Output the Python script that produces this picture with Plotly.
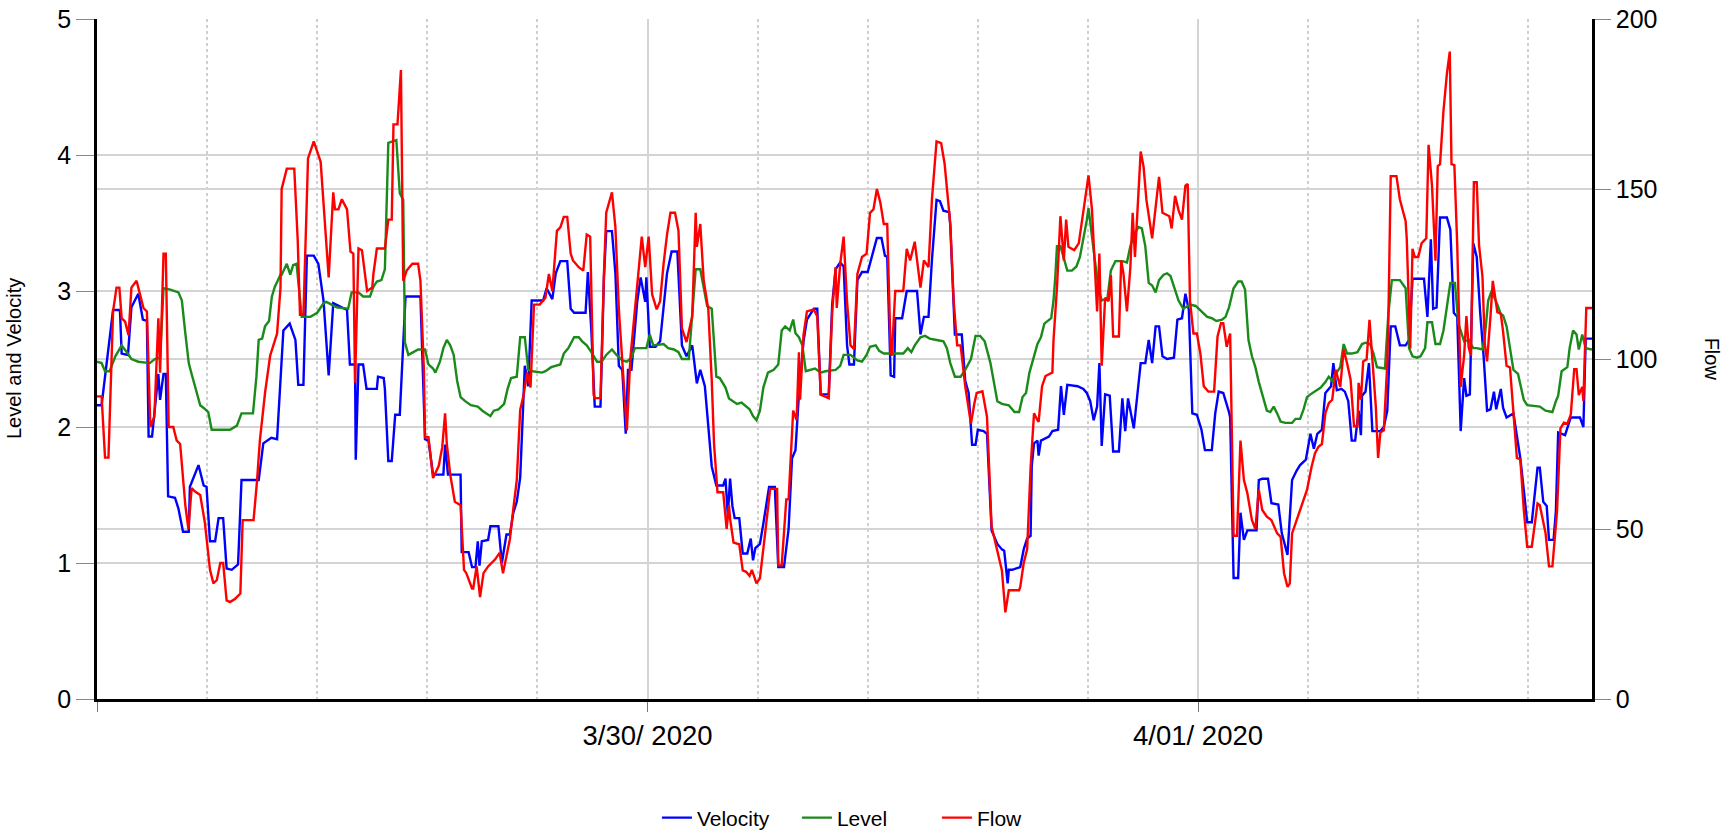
import pandas as pd
import plotly.graph_objects as go

START = pd.Timestamp("2020-03-28 00:00")
END_HOURS = 130.35

# ---- Velocity (left axis) : hours since 3/28 00:00, value
vel_hours = [0, 0.4, 1.4, 2.0, 2.15, 2.7, 3.0, 3.6, 4.0, 4.35, 4.5, 4.8, 5.35, 5.5, 5.8, 6.0, 6.2, 6.8, 7.1, 7.5,
             8.0, 8.1, 8.85, 9.3, 9.55, 9.85, 10.3, 10.6, 11.0, 11.3, 11.75, 12.3, 12.6, 14.1, 14.5, 15.2, 15.7, 16.25, 16.8, 17.3,
             17.55, 18.0, 18.3, 18.9, 19.3, 19.75, 20.2, 20.6, 21.8, 22.05, 22.5, 22.56, 22.8, 23.2, 23.5, 24.4, 24.5, 25.0, 25.1, 25.4,
             25.7, 26.0, 26.4, 26.9, 28.2, 28.4, 28.6, 28.9, 29.3, 30.2, 30.35, 30.6, 31.7, 31.8, 32.4, 32.7, 33.0, 33.2, 33.35, 33.55,
             34.1, 34.3, 35.0, 35.3, 35.7, 36.0, 36.3, 36.6, 36.9, 37.3, 37.6, 37.9, 38.9, 39.2, 39.7, 40.0, 40.4, 41.0, 41.3, 41.6,
             42.6, 42.8, 43.1, 43.4, 43.9, 44.2, 44.4, 44.9, 45.2, 45.5, 45.8, 46.1, 46.3, 46.6, 47.1, 47.4, 47.8, 47.9, 48.2, 48.7,
             49.1, 49.7, 50.1, 50.6, 51.0, 51.4, 51.9, 52.3, 52.6, 53.0, 53.6, 54.0, 54.6, 54.8, 55.0, 55.2, 55.4, 55.6, 56.0, 56.3,
             56.7, 57.0, 57.2, 57.4, 57.8, 58.1, 58.6, 59.1, 59.4, 59.9, 60.3, 60.6, 60.9, 61.2, 61.6, 61.9, 62.5, 62.8, 63.1, 63.8,
             64.1, 64.4, 64.8, 65.1, 65.4, 65.6, 66.0, 66.3, 66.7, 67.2, 67.6, 68.0, 68.4, 68.7, 68.9, 69.2, 69.5, 69.6, 70.2, 70.6,
             71.5, 71.8, 72.1, 72.5, 72.8, 73.2, 73.5, 73.8, 74.3, 74.4, 74.8, 75.4, 75.7, 76.0, 76.3, 76.6, 76.8, 77.3, 77.6, 78.0,
             78.5, 78.9, 79.1, 79.4, 79.5, 79.8, 80.5, 80.8, 81.1, 81.4, 81.5, 81.7, 82.0, 82.1, 82.3, 82.7, 83.0, 83.3, 83.8, 84.05,
             84.3, 84.6, 85.5, 86.0, 86.3, 86.6, 86.9, 87.2, 87.4, 87.6, 87.9, 88.3, 88.6, 89.1, 89.4, 89.65, 89.9, 90.4, 90.5, 91.0,
             91.4, 91.7, 92.0, 92.3, 92.6, 92.9, 93.3, 93.9, 94.2, 94.6, 94.9, 95.2, 95.5, 95.9, 96.3, 96.6, 97.2, 97.5, 97.8, 98.2,
             98.7, 98.8, 99.1, 99.5, 99.7, 100.0, 100.3, 101.1, 101.3, 101.6, 102.1, 102.4, 103.0, 103.3, 103.8, 104.0, 104.2, 104.6, 104.9, 105.4,
             105.8, 106.1, 106.4, 106.8, 107.1, 107.6, 107.8, 108.1, 108.5, 108.8, 109.1, 109.4, 109.7, 110.0, 110.2, 110.3, 110.6, 110.9, 111.2, 111.9,
             112.2, 112.5, 112.8, 113.2, 113.6, 114.1, 114.4, 114.7, 115.7, 116.0, 116.3, 116.5, 116.8, 117.1, 117.7, 118.0, 118.3, 118.6, 118.9, 119.2,
             119.4, 119.7, 120.0, 120.3, 120.6, 120.9, 121.2, 121.5, 121.8, 122.0, 122.4, 122.6, 122.9, 123.5, 124.1, 124.4, 124.7, 125.1, 125.6, 125.8,
             126.1, 126.4, 126.6, 127.0, 127.2, 127.4, 128.0, 128.5, 129.3, 129.6, 129.8, 130.35]
velocity = [2.16, 2.16, 2.86, 2.86, 2.54, 2.53, 2.88, 2.98, 2.79, 2.78, 1.93, 1.93, 2.39, 2.2, 2.39, 2.39, 1.49, 1.48, 1.40, 1.23,
            1.23, 1.56, 1.72, 1.57, 1.56, 1.16, 1.16, 1.33, 1.33, 0.96, 0.95, 0.99, 1.61, 1.61, 1.88, 1.92, 1.91, 2.71, 2.76, 2.64,
            2.31, 2.31, 3.26, 3.26, 3.2, 2.93, 2.38, 2.91, 2.86, 2.46, 2.46, 1.76, 2.46, 2.46, 2.28, 2.28, 2.37, 2.36, 2.28, 1.75,
            1.75, 2.09, 2.09, 2.96, 2.96, 2.47, 1.91, 1.90, 1.65, 1.65, 1.87, 1.65, 1.65, 1.08, 1.08, 0.97, 0.97, 1.16, 0.98, 1.16,
            1.17, 1.27, 1.27, 1.0, 1.21, 1.21, 1.37, 1.45, 1.63, 2.45, 2.3, 2.93, 2.93, 3.02, 2.94, 3.13, 3.22, 3.22, 2.87, 2.84,
            2.84, 3.14, 2.71, 2.15, 2.15, 3.1, 3.44, 3.44, 3.13, 2.45, 2.42, 1.95, 2.42, 2.42, 2.92, 3.1, 2.92, 3.1, 2.59, 2.59,
            2.63, 3.13, 3.29, 3.29, 2.6, 2.52, 2.6, 2.32, 2.42, 2.3, 1.71, 1.57, 1.57, 1.62, 1.35, 1.62, 1.42, 1.33, 1.33, 1.07,
            1.07, 1.18, 1.02, 1.11, 1.14, 1.29, 1.56, 1.56, 0.97, 0.97, 1.25, 1.77, 1.83, 2.24, 2.63, 2.79, 2.87, 2.87, 2.24, 2.24,
            2.9, 3.16, 3.21, 3.18, 2.6, 2.46, 2.46, 3.08, 3.14, 3.14, 3.27, 3.39, 3.39, 3.26, 3.25, 2.38, 2.37, 2.8, 2.8, 3.0,
            3.0, 2.68, 2.81, 2.81, 3.23, 3.67, 3.66, 3.59, 3.58, 3.48, 2.68, 2.68, 2.34, 2.25, 1.87, 1.87, 1.98, 1.97, 1.95, 1.24,
            1.14, 1.1, 1.09, 0.85, 0.95, 0.95, 0.97, 1.1, 1.18, 1.2, 1.71, 1.88, 1.9, 1.79, 1.9, 1.92, 1.93, 1.97, 1.98, 2.3,
            2.09, 2.31, 2.3, 2.28, 2.25, 2.19, 2.05, 2.15, 2.47, 1.86, 2.24, 2.23, 1.82, 1.82, 2.21, 1.97, 2.21, 1.99, 2.08, 2.47,
            2.47, 2.64, 2.47, 2.74, 2.74, 2.52, 2.5, 2.51, 2.79, 2.8, 2.98, 2.86, 2.1, 2.09, 1.98, 1.83, 1.83, 2.1, 2.26, 2.25,
            2.11, 2.07, 0.89, 0.89, 1.37, 1.17, 1.24, 1.24, 1.61, 1.62, 1.62, 1.44, 1.43, 1.22, 1.06, 1.3, 1.61, 1.68, 1.72, 1.76,
            1.95, 1.84, 1.95, 1.98, 2.25, 2.3, 2.47, 2.27, 2.28, 2.26, 2.19, 1.9, 1.9, 2.12, 1.94, 2.23, 2.26, 2.47, 1.97, 1.97,
            2.0, 2.12, 2.74, 2.74, 2.6, 2.6, 2.64, 3.09, 3.09, 2.81, 3.38, 2.87, 2.88, 3.54, 3.54, 3.45, 2.84, 2.81, 1.97, 2.36,
            2.23, 2.24, 3.35, 3.25, 2.84, 2.52, 2.12, 2.13, 2.26, 2.13, 2.28, 2.14, 2.07, 2.1, 1.77, 1.54, 1.3, 1.3, 1.7, 1.7,
            1.45, 1.42, 1.17, 1.17, 1.38, 1.96, 1.94, 2.07, 2.07, 2.0, 2.65, 2.65]

# ---- Level (left axis)
lvl_hours = [0, 0.4, 0.7, 1.1, 1.6, 2.15, 2.6, 3.0, 3.6, 4.6, 5.05, 5.5, 5.8, 6.4, 7.1, 7.4, 7.7, 8.0, 8.25, 8.7,
             9.0, 9.3, 9.7, 10.0, 11.6, 12.2, 12.6, 13.6, 13.9, 14.1, 14.4, 14.65, 15.0, 15.25, 15.5, 16.0, 16.1, 16.55, 16.85, 17.1,
             17.4, 17.85, 18.6, 19.2, 19.75, 20.0, 20.9, 21.9, 22.2, 22.8, 23.2, 23.8, 24.1, 24.4, 24.8, 25.1, 25.4, 26.1, 26.4, 26.7,
             26.85, 27.15, 27.6, 28.0, 28.6, 28.9, 29.3, 29.5, 29.9, 30.2, 30.5, 30.8, 31.1, 31.4, 31.7, 32.1, 32.6, 33.2, 33.6, 34.0,
             34.3, 34.6, 35.0, 35.5, 35.8, 36.1, 36.6, 36.9, 37.3, 37.6, 38.0, 38.8, 39.1, 39.6, 40.0, 40.4, 40.7, 41.1, 41.6, 42.0,
             42.3, 42.7, 43.1, 43.6, 44.0, 44.4, 44.9, 45.3, 45.8, 46.2, 46.6, 46.9, 47.9, 48.2, 48.5, 49.4, 49.8, 50.3, 50.7, 51.0,
             51.6, 51.9, 52.2, 52.6, 52.9, 53.2, 53.6, 53.8, 54.0, 54.3, 54.8, 55.1, 55.4, 55.8, 56.2, 56.5, 56.9, 57.2, 57.5, 57.8,
             58.1, 58.5, 59.0, 59.4, 59.7, 60.0, 60.4, 60.7, 60.9, 61.2, 61.5, 61.8, 62.2, 62.6, 63.1, 63.5, 64.4, 64.8, 65.1, 65.7,
             66.3, 66.7, 67.1, 67.4, 67.9, 68.2, 68.6, 70.3, 70.7, 71.0, 71.3, 71.8, 72.2, 72.6, 73.2, 73.8, 74.1, 74.4, 74.8, 75.3,
             75.7, 76.2, 76.6, 77.0, 77.4, 77.9, 78.2, 78.5, 78.9, 79.5, 80.0, 80.4, 80.7, 81.0, 81.3, 81.7, 82.0, 82.3, 82.6, 83.2,
             83.4, 83.55, 83.7, 84.0, 84.3, 84.6, 85.0, 85.4, 85.7, 86.0, 86.3, 86.45, 86.75, 87.0, 87.3, 87.6, 88.1, 88.4, 88.8, 89.4,
             89.8, 90.1, 90.4, 90.8, 91.1, 91.4, 91.7, 92.0, 92.3, 92.6, 93.0, 93.3, 93.6, 93.9, 94.3, 94.7, 95.3, 95.8, 96.2, 96.8,
             97.2, 97.6, 98.1, 98.4, 98.7, 99.1, 99.5, 99.8, 100.1, 100.4, 100.7, 101.0, 101.3, 101.6, 102.0, 102.3, 102.6, 102.9, 103.2, 103.6,
             104.2, 104.5, 104.9, 105.2, 105.5, 105.8, 106.2, 106.7, 107.1, 107.4, 107.7, 108.0, 108.4, 108.7, 109.0, 109.4, 109.9, 110.3, 110.6, 111.0,
             111.3, 111.6, 112.3, 112.6, 112.9, 113.6, 114.1, 114.4, 114.7, 115.1, 115.4, 115.8, 116.0, 116.4, 116.7, 117.1, 117.4, 117.7, 118.0, 118.4,
             118.7, 119.2, 119.6, 120.0, 120.3, 120.8, 121.0, 121.3, 121.6, 122.1, 122.4, 122.6, 122.9, 123.2, 123.5, 123.9, 124.4, 124.7, 125.8, 126.3,
             126.9, 127.2, 127.4, 127.7, 128.2, 128.4, 128.7, 129.0, 129.2, 129.5, 129.8, 130.35]
level = [2.48, 2.47, 2.41, 2.41, 2.52, 2.60, 2.55, 2.50, 2.48, 2.47, 2.50, 2.51, 3.02, 3.01, 2.99, 2.93, 2.69, 2.47, 2.39, 2.25,
         2.16, 2.14, 2.11, 1.98, 1.98, 2.01, 2.10, 2.10, 2.37, 2.64, 2.65, 2.74, 2.78, 2.96, 3.03, 3.12, 3.12, 3.20, 3.12, 3.19,
         3.20, 2.81, 2.81, 2.84, 2.91, 2.92, 2.88, 2.87, 2.99, 2.99, 2.96, 2.96, 3.03, 3.07, 3.08, 3.16, 4.09, 4.11, 3.72, 3.67,
         2.62, 2.53, 2.55, 2.57, 2.57, 2.46, 2.43, 2.40, 2.48, 2.58, 2.64, 2.60, 2.53, 2.34, 2.22, 2.19, 2.16, 2.15, 2.12, 2.10,
         2.08, 2.12, 2.13, 2.17, 2.28, 2.36, 2.37, 2.66, 2.66, 2.42, 2.41, 2.40, 2.41, 2.44, 2.45, 2.46, 2.54, 2.58, 2.66, 2.66,
         2.63, 2.60, 2.55, 2.48, 2.48, 2.53, 2.57, 2.53, 2.49, 2.48, 2.51, 2.58, 2.58, 2.68, 2.60, 2.61, 2.58, 2.57, 2.55, 2.50,
         2.50, 2.87, 3.16, 3.16, 3.02, 2.89, 2.87, 2.63, 2.37, 2.36, 2.29, 2.21, 2.19, 2.17, 2.18, 2.16, 2.13, 2.08, 2.05, 2.12,
         2.29, 2.40, 2.42, 2.46, 2.71, 2.74, 2.71, 2.79, 2.69, 2.66, 2.60, 2.41, 2.42, 2.43, 2.40, 2.41, 2.42, 2.45, 2.53, 2.53,
         2.49, 2.48, 2.53, 2.59, 2.60, 2.56, 2.54, 2.54, 2.58, 2.55, 2.60, 2.66, 2.67, 2.65, 2.64, 2.63, 2.58, 2.47, 2.37, 2.37,
         2.42, 2.50, 2.67, 2.67, 2.63, 2.47, 2.33, 2.19, 2.17, 2.16, 2.11, 2.11, 2.22, 2.25, 2.40, 2.52, 2.61, 2.66, 2.76, 2.80,
         2.93, 3.10, 3.33, 3.33, 3.23, 3.15, 3.15, 3.18, 3.25, 3.38, 3.52, 3.61, 3.42, 3.23, 3.03, 2.93, 2.95, 3.15, 3.22, 3.22,
         3.21, 3.33, 3.41, 3.47, 3.46, 3.33, 3.06, 3.04, 2.99, 3.08, 3.12, 3.13, 3.11, 3.03, 2.93, 2.87, 2.90, 2.89, 2.86, 2.81,
         2.80, 2.78, 2.79, 2.81, 2.88, 3.02, 3.07, 3.07, 3.01, 2.64, 2.52, 2.44, 2.33, 2.24, 2.12, 2.11, 2.15, 2.10, 2.04, 2.03,
         2.03, 2.06, 2.06, 2.13, 2.22, 2.24, 2.26, 2.29, 2.33, 2.37, 2.34, 2.39, 2.44, 2.61, 2.54, 2.54, 2.55, 2.61, 2.62, 2.61,
         2.54, 2.44, 2.43, 2.84, 3.08, 3.08, 3.02, 2.58, 2.52, 2.51, 2.52, 2.58, 2.77, 2.77, 2.61, 2.61, 2.71, 2.89, 3.06, 3.06,
         2.76, 2.63, 2.64, 2.58, 2.58, 2.57, 2.66, 2.93, 3.00, 2.90, 2.83, 2.82, 2.74, 2.58, 2.42, 2.39, 2.20, 2.16, 2.15, 2.12,
         2.11, 2.19, 2.23, 2.41, 2.44, 2.58, 2.71, 2.68, 2.57, 2.68, 2.58, 2.57]

# ---- Flow (right axis)
flow_hours = [0, 0.4, 0.7, 1.0, 1.4, 1.7, 1.95, 2.15, 2.45, 2.75, 3.0, 3.45, 3.75, 4.05, 4.35, 4.65, 5.0, 5.35, 5.5, 5.8,
              6.0, 6.25, 6.65, 6.95, 7.25, 7.7, 7.97, 8.25, 8.55, 9.0, 9.4, 9.85, 10.15, 10.45, 10.75, 11.0, 11.3, 11.6, 12.05, 12.5,
              12.7, 13.65, 13.95, 14.2, 14.65, 15.1, 15.7, 16.0, 16.1, 16.55, 17.2, 17.5, 17.7, 18.0, 18.4, 18.9, 19.5, 19.74, 20.2, 20.6,
              20.75, 21.05, 21.35, 21.8, 22.1, 22.35, 22.5, 22.8, 23.1, 23.4, 23.55, 24.0, 24.1, 24.4, 25.1, 25.4, 25.7, 25.85, 26.2, 26.5,
              26.7, 27.0, 27.5, 28.0, 28.2, 28.5, 28.6, 28.9, 29.3, 29.8, 30.1, 30.35, 30.5, 30.8, 31.2, 31.7, 32.0, 32.2, 32.7, 32.8,
              33.1, 33.4, 33.7, 34.1, 34.7, 35.1, 35.4, 35.7, 36.0, 36.3, 36.6, 36.9, 37.2, 37.5, 37.8, 38.1, 38.6, 39.1, 39.4, 39.7,
              40.1, 40.4, 40.7, 41.0, 41.3, 41.5, 42.0, 42.4, 42.7, 43.0, 43.3, 43.4, 43.9, 44.2, 44.4, 44.9, 45.2, 45.5, 45.8, 46.2,
              46.5, 46.9, 47.2, 47.5, 47.8, 48.1, 48.4, 48.8, 49.1, 49.4, 49.7, 50.0, 50.4, 50.7, 51.0, 51.4, 51.9, 52.2, 52.3, 52.6,
              52.9, 53.3, 53.6, 53.8, 54.1, 54.6, 54.9, 55.1, 55.2, 55.5, 56.0, 56.3, 56.6, 56.9, 57.1, 57.5, 57.8, 58.4, 58.7, 59.3,
              59.4, 59.7, 60.1, 60.3, 60.5, 60.7, 61.0, 61.2, 61.3, 61.6, 61.9, 62.5, 62.8, 63.1, 63.8, 64.1, 64.4, 64.5, 64.8, 65.1,
              65.4, 65.7, 66.0, 66.3, 66.7, 67.1, 67.4, 67.7, 68.0, 68.3, 68.6, 68.9, 69.2, 69.3, 69.6, 70.3, 70.6, 70.9, 71.3, 71.6,
              71.8, 72.1, 72.5, 72.8, 73.2, 73.6, 73.9, 74.4, 74.7, 75.0, 75.3, 75.7, 76.2, 76.5, 76.7, 77.2, 77.6, 78.0, 78.5, 78.9,
              79.2, 79.5, 80.4, 80.5, 80.8, 81.1, 81.4, 81.7, 82.0, 82.1, 82.4, 82.7, 83.3, 83.4, 83.7, 84.0, 84.3, 84.5, 84.7, 85.2,
              85.6, 85.9, 86.2, 86.45, 86.75, 87.0, 87.2, 87.4, 87.6, 87.9, 88.2, 88.4, 88.6, 89.1, 89.3, 89.5, 89.8, 90.1, 90.3, 90.5,
              90.8, 91.0, 91.25, 91.5, 92.0, 92.3, 92.6, 92.9, 93.5, 93.7, 94.0, 94.3, 94.6, 94.9, 95.1, 95.3, 95.6, 95.9, 96.2, 96.5,
              96.9, 97.4, 97.7, 98.0, 98.2, 98.5, 98.8, 99.1, 99.4, 99.7, 100.0, 100.3, 100.7, 101.0, 101.3, 101.6, 102.0, 102.4, 102.9, 103.2,
              103.5, 103.8, 104.0, 104.2, 104.6, 105.0, 105.5, 105.9, 106.2, 106.5, 106.8, 107.1, 107.4, 107.7, 108.0, 108.4, 108.7, 109.0, 109.3, 109.6,
              109.9, 110.0, 110.2, 110.4, 110.7, 110.95, 111.2, 111.5, 111.7, 111.9, 112.2, 112.5, 112.6, 112.8, 113.3, 113.6, 114.1, 114.2, 114.5, 114.7,
              114.9, 115.2, 115.5, 115.9, 116.1, 116.4, 116.7, 116.9, 117.1, 117.4, 117.7, 117.95, 118.1, 118.35, 118.6, 118.9, 119.2, 119.4, 119.6, 119.8,
              120.05, 120.3, 120.5, 120.8, 121.0, 121.2, 121.5, 121.7, 122.1, 122.4, 122.6, 122.9, 123.2, 123.5, 123.8, 124.1, 124.4, 124.7, 125.1, 125.6,
              125.8, 126.3, 126.6, 126.9, 127.3, 127.6, 127.9, 128.2, 128.5, 128.8, 129.0, 129.2, 129.5, 129.6, 129.85, 130.35]
flow = [89, 89, 71, 71, 114, 121, 121, 112, 111, 107, 121, 123, 119, 115, 114, 80, 83, 112, 96, 131,
        131, 80, 80, 76, 75, 57, 50, 62, 61, 60, 52, 38, 34, 35, 40, 40, 29, 28.5, 29.5, 31,
        52.6, 52.6, 64, 76, 90, 101, 107.5, 121, 150, 156, 156, 135, 113, 113, 159, 164, 158, 146, 124, 149,
        144, 144, 147, 144, 131.6, 131, 93, 132.5, 132, 124, 120, 121, 125, 132.5, 132.5, 141, 141, 169, 169, 185,
        123, 126, 128, 128, 123, 97, 77, 77, 65, 68.6, 74, 84, 75, 66, 58, 57, 38, 37, 32.5, 32.5,
        39, 30, 37, 39, 41, 43, 37, 42, 47, 56, 64.4, 85, 89.5, 96, 91.6, 116, 116, 118, 125, 120,
        137.7, 138.7, 141.8, 141.8, 131, 129, 127, 126, 136.6, 136, 89.5, 88.5, 88.5, 125, 143, 149, 138.7, 114.6, 99, 79,
        100, 114.6, 127, 136, 127, 136, 119, 114.6, 117, 128, 136.6, 143, 143, 137.7, 109, 105, 112.6, 143, 133, 139.7,
        123, 114.6, 93.7, 75, 60.8, 60.8, 50, 57, 53, 46, 45.5, 37.8, 37.4, 36.2, 38, 34, 35.5, 51.9, 61.8, 61.8,
        39.3, 39.3, 58.7, 58.7, 70, 84.8, 82, 102, 88, 107, 114, 114.6, 112.5, 89.5, 88.5, 113.6, 127, 115, 128, 136,
        116.7, 104, 103, 125, 130, 131, 143, 144, 150, 146, 139.7, 139.7, 102, 101, 120, 120, 132.4, 129, 134.5, 127,
        121, 129, 127, 147, 164, 163.5, 157.5, 139.7, 116.7, 104, 104, 92, 81, 87, 90, 90.5, 83, 50.8, 43.5, 37.8,
        25.5, 32, 32, 33, 40, 44, 68, 84, 82, 81.5, 92, 95, 96, 105.6, 121, 142, 129, 141, 133, 132,
        134, 141, 149, 154, 144, 129, 114, 131, 98, 118, 117, 124.7, 106.6, 106.6, 129, 125, 114, 127, 143, 130,
        149, 161, 156.6, 146.8, 135.5, 143.8, 153.6, 143, 142, 138.4, 148, 143.8, 141, 151, 151.5, 117, 107.5, 107.5, 101.7, 92,
        90.4, 90.4, 106.6, 110.5, 110.5, 103.6, 107.5, 48, 48, 76, 64.4, 60.5, 52.6, 50, 61.5, 55.6, 53.6, 52.6, 48.7, 47.7,
        37, 33, 34, 48.7, 52.6, 56, 61.5, 68.3, 72.3, 74.2, 75, 84, 87, 88, 96.8, 91.8, 102.8, 98.7, 94, 80.2,
        80.2, 93, 88, 99.3, 99.9, 111.5, 98.7, 86, 70.9, 78.4, 79, 98.7, 112.6, 153.8, 153.8, 146.9, 140.5, 135.3, 103, 132.4,
        130, 130, 134.1, 135.5, 163, 151, 128.9, 156.7, 157.3, 173, 184, 190.4, 157.3, 157, 133.5, 91.8, 101, 112.6, 103.4, 101,
        152, 152, 133.5, 124.2, 104.5, 99.3, 112.6, 123, 113.8, 113.3, 108, 98, 97.5, 84.8, 70.9, 70.5, 55.8, 44.8, 44.8, 57.5,
        57, 48.8, 39, 39, 55.2, 79.6, 81.3, 81, 83.6, 97, 97, 89.4, 91.8, 87.7, 115, 115]

# ---- axis ticks
tick_hours = [0, 48, 96]
tick_labels = ["", "3/30/ 2020", "4/01/ 2020"]
left_ticks = [0, 1, 2, 3, 4, 5]
right_ticks = [0, 50, 100, 150, 200]


def to_time(hours):
    return [START + pd.Timedelta(hours=h) for h in hours]


FONT = "Arial, 'Liberation Sans', sans-serif"
GRID = "#d4d4d4"

fig = go.Figure()
fig.add_trace(go.Scatter(x=to_time(vel_hours), y=velocity, name="Velocity", mode="lines",
                         line=dict(color="#0000ff", width=2.4)))
fig.add_trace(go.Scatter(x=to_time(lvl_hours), y=level, name="Level", mode="lines",
                         line=dict(color="#1a8a1a", width=2.4)))
fig.add_trace(go.Scatter(x=to_time(flow_hours), y=flow, name="Flow", mode="lines", yaxis="y2",
                         line=dict(color="#ff0000", width=2.4)))

fig.update_layout(
    width=1732, height=833,
    margin=dict(l=97, r=140, t=19, b=134, autoexpand=False),
    paper_bgcolor="white", plot_bgcolor="white",
    font=dict(family=FONT, color="black"),
    showlegend=True,
    xaxis=dict(
        type="date", automargin=False,
        range=[START, START + pd.Timedelta(hours=END_HOURS)],
        tickmode="array", tickvals=to_time(tick_hours), ticktext=tick_labels,
        ticks="outside", ticklen=10, tickcolor="#777777", tickwidth=1,
        tickfont=dict(size=27.5, family=FONT),
        showgrid=True, gridcolor=GRID, gridwidth=2,
        showline=True, linecolor="black", linewidth=3, zeroline=False,
        minor=dict(tick0=START, dtick=9.6 * 3600 * 1000, showgrid=True,
                   gridcolor="#cfcfcf", griddash="dot", gridwidth=1.5),
    ),
    yaxis=dict(
        range=[0, 5], tickmode="array", tickvals=left_ticks, automargin=False,
        ticks="outside", ticklen=18, tickcolor="#888888", tickwidth=1,
        tickfont=dict(size=25, family=FONT),
        showgrid=True, gridcolor=GRID, gridwidth=2,
        showline=True, linecolor="black", linewidth=2.5, zeroline=False,
    ),
    yaxis2=dict(
        range=[0, 200], tickmode="array", tickvals=right_ticks, automargin=False,
        overlaying="y", side="right",
        ticks="outside", ticklen=16, tickcolor="#888888", tickwidth=1,
        tickfont=dict(size=25, family=FONT),
        showgrid=True, gridcolor=GRID, gridwidth=2,
        showline=True, linecolor="black", linewidth=2.5, zeroline=False,
    ),
    legend=dict(orientation="h", x=0.515, xanchor="center", y=-0.175, yanchor="middle",
                entrywidth=95, entrywidthmode="pixels",
                font=dict(size=21, family=FONT), bgcolor="rgba(0,0,0,0)"),
    annotations=[
        dict(text="Level and Velocity", textangle=-90, xref="paper", yref="paper",
             x=-0.0555, y=0.5, xanchor="center", yanchor="middle", showarrow=False,
             font=dict(size=20, family=FONT)),
        dict(text="Flow", textangle=90, xref="paper", yref="paper",
             x=1.0805, y=0.5, xanchor="center", yanchor="middle", showarrow=False,
             font=dict(size=20, family=FONT)),
    ],
)

# remove the browser's default 8px page margin so the figure fills the window exactly
fig.write_html("out.html",
               config={"displayModeBar": False},
               post_script="document.body.style.margin='0px';document.body.style.overflow='hidden';")
